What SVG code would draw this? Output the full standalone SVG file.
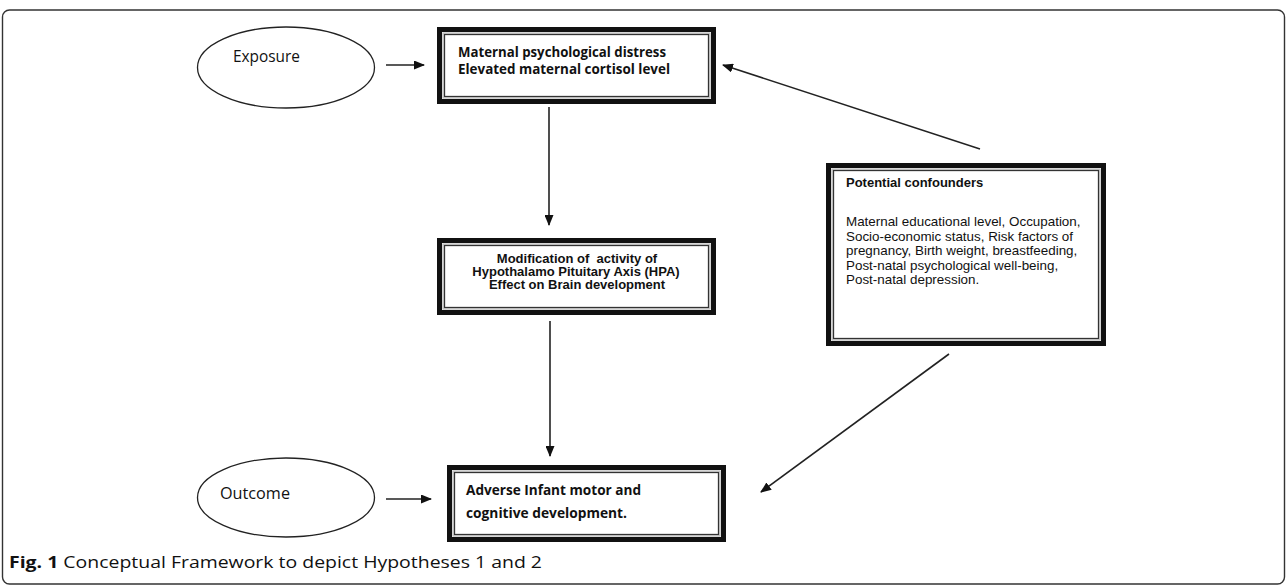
<svg xmlns="http://www.w3.org/2000/svg" width="1287" height="586" viewBox="0 0 1287 586">
<style>
.frame{fill:#fff;stroke:#333;stroke-width:1.4}
.outer{fill:#fff;stroke:#111;stroke-width:5}
.mid{fill:none;stroke:#bbb;stroke-width:1.2}
.inner{fill:none;stroke:#333;stroke-width:1.3}
.ell{fill:#fff;stroke:#222;stroke-width:1.3}
.conn{stroke:#222;stroke-width:1.6;fill:none}
.cal{font-family:"Open Sans","Liberation Sans",sans-serif;fill:#111}
.calb{font-family:"Open Sans","Liberation Sans",sans-serif;font-weight:700;fill:#111}
.ar{font-family:"Liberation Sans",Arial,sans-serif;fill:#111}
.arb{font-family:"Liberation Sans",Arial,sans-serif;font-weight:700;fill:#111}
</style>
<defs>
<marker id="ah" viewBox="0 0 11 9" refX="10" refY="4.5" markerWidth="11" markerHeight="9" markerUnits="userSpaceOnUse" orient="auto">
<path d="M0,0 L11,4.5 L0,9 z" fill="#111"/>
</marker>
</defs>
<rect class="frame" x="2.5" y="10" width="1282" height="574" rx="7"/>

<g id="exposure">
<ellipse class="ell" cx="286" cy="67.5" rx="88.5" ry="40.5"/>
<text class="cal" x="233" y="62" font-size="16" textLength="67" lengthAdjust="spacingAndGlyphs">Exposure</text>
</g>

<g id="outcome">
<ellipse class="ell" cx="286" cy="497.5" rx="88.5" ry="39.5"/>
<text class="cal" x="220" y="499" font-size="16" textLength="70" lengthAdjust="spacingAndGlyphs">Outcome</text>
</g>

<g id="distress">
<rect class="outer" x="439.5" y="29.5" width="274" height="72"/>
<rect class="mid" x="443" y="33" width="267" height="65"/>
<rect class="inner" x="444.5" y="34.5" width="264" height="62"/>
<text class="calb" x="458" y="57" font-size="14" textLength="208" lengthAdjust="spacingAndGlyphs">Maternal psychological distress</text>
<text class="calb" x="458" y="74" font-size="14" textLength="212" lengthAdjust="spacingAndGlyphs">Elevated maternal cortisol level</text>
</g>

<g id="hpa">
<rect class="outer" x="439.5" y="240.5" width="274" height="72"/>
<rect class="mid" x="443" y="244" width="267" height="65"/>
<rect class="inner" x="444.5" y="245.5" width="264" height="62"/>
<text class="arb" x="577" y="263" font-size="13" text-anchor="middle" xml:space="preserve">Modification of  activity of</text>
<text class="arb" x="576" y="276" font-size="13" text-anchor="middle">Hypothalamo Pituitary Axis (HPA)</text>
<text class="arb" x="577" y="289" font-size="13" text-anchor="middle">Effect on Brain development</text>
</g>

<g id="adverse">
<rect class="outer" x="449.5" y="467.5" width="274" height="72"/>
<rect class="mid" x="453" y="471" width="267" height="65"/>
<rect class="inner" x="454.5" y="472.5" width="264" height="62"/>
<text class="calb" x="466" y="495" font-size="15" textLength="175" lengthAdjust="spacingAndGlyphs">Adverse Infant motor and</text>
<text class="calb" x="466" y="518" font-size="15" textLength="161" lengthAdjust="spacingAndGlyphs">cognitive development.</text>
</g>

<g id="confounders">
<rect class="outer" x="828.5" y="165.5" width="275" height="178"/>
<rect class="mid" x="832" y="169" width="268" height="171"/>
<rect class="inner" x="833.5" y="170.5" width="265" height="168"/>
<text class="arb" x="846" y="187" font-size="13">Potential confounders</text>
<text class="ar" font-size="13.4">
<tspan x="846" y="226">Maternal educational level, Occupation,</tspan>
<tspan x="846" y="240.5">Socio-economic status, Risk factors of</tspan>
<tspan x="846" y="255">pregnancy, Birth weight, breastfeeding,</tspan>
<tspan x="846" y="269.5">Post-natal psychological well-being,</tspan>
<tspan x="846" y="284">Post-natal depression.</tspan>
</text>
</g>

<g id="connectors">
<line class="conn" x1="386" y1="65" x2="424" y2="65" marker-end="url(#ah)"/>
<line class="conn" x1="386" y1="499" x2="431" y2="499" marker-end="url(#ah)"/>
<line class="conn" x1="549" y1="107" x2="549" y2="225" marker-end="url(#ah)"/>
<line class="conn" x1="550" y1="321" x2="550" y2="456" marker-end="url(#ah)"/>
<line class="conn" x1="980" y1="149" x2="723" y2="65" marker-end="url(#ah)"/>
<line class="conn" x1="949" y1="354" x2="761" y2="492" marker-end="url(#ah)"/>
</g>

<text class="cal" x="9" y="568" font-size="15.5" textLength="533" lengthAdjust="spacingAndGlyphs"><tspan font-weight="700">Fig. 1</tspan> Conceptual Framework to depict Hypotheses 1 and 2</text>
</svg>
